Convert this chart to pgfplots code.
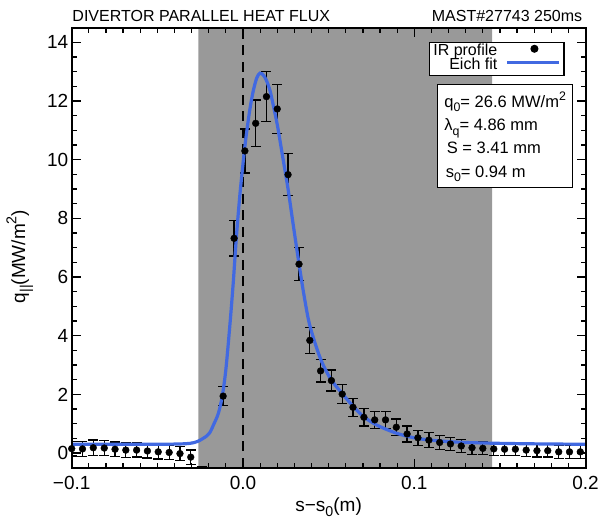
\documentclass[border=0pt]{standalone}
\usepackage{fontspec}
\setmainfont{Liberation Sans}
\usepackage{graphicx}
\usepackage{pgfplots}
\usepackage{pgfplotstable}
\pgfplotsset{compat=1.18}
\definecolor{shade}{RGB}{153,153,153}
\definecolor{fitblue}{RGB}{65,105,225}
\newcommand\lo[1]{\raisebox{-0.5ex}{\scalebox{0.75}{#1}}}
\newcommand\hi[1]{\raisebox{0.85ex}{\scalebox{0.75}{#1}}}
\pgfplotsset{fitlegend/.style={legend image code/.code={\draw[##1] (0pt,3pt) -- (52pt,3pt);}},
  marklegend/.style={legend image code/.code={\draw[mark repeat=2,mark phase=2,##1] plot coordinates {(0pt,3.5pt) (27pt,3.5pt) (52pt,3.5pt)};}}}

\pgfplotstableread{
x y e
-0.1000 0.15 0.25
-0.0937 0.14 0.25
-0.0874 0.18 0.26
-0.0810 0.17 0.26
-0.0747 0.13 0.25
-0.0684 0.10 0.25
-0.0621 0.10 0.24
-0.0558 0.07 0.24
-0.0495 0.04 0.24
-0.0431 0.02 0.24
-0.0368 -0.02 0.24
-0.0305 -0.14 0.24
-0.0242 -0.95 0.48
-0.0116 1.94 0.33
-0.0052 7.32 0.60
0.0011 10.30 0.75
0.0074 11.24 0.80
0.0137 12.15 0.85
0.0200 11.73 0.84
0.0263 9.49 0.72
0.0327 6.44 0.56
0.0390 3.84 0.44
0.0453 2.80 0.38
0.0516 2.47 0.36
0.0579 2.01 0.33
0.0642 1.56 0.31
0.0706 1.22 0.30
0.0769 1.13 0.29
0.0832 1.13 0.29
0.0895 0.88 0.28
0.0958 0.65 0.27
0.1021 0.52 0.26
0.1085 0.44 0.25
0.1148 0.36 0.24
0.1211 0.31 0.23
0.1274 0.24 0.22
0.1337 0.18 0.22
0.1400 0.16 0.22
0.1464 0.14 0.22
0.1527 0.13 0.22
0.1590 0.13 0.22
0.1653 0.10 0.22
0.1716 0.08 0.22
0.1779 0.08 0.22
0.1843 0.04 0.22
0.1906 0.04 0.22
0.1969 0.04 0.22
}\irdata

\pgfplotstableread{
x y
-0.1000 0.30
-0.0600 0.30
-0.0400 0.305
-0.0310 0.33
-0.0263 0.40
-0.0212 0.58
-0.0193 0.70
-0.0173 0.95
-0.0144 1.35
-0.0121 1.94
-0.0100 2.85
-0.0076 4.40
-0.0057 5.80
-0.0043 7.00
-0.0030 8.00
-0.0015 9.00
0.0008 10.30
0.0025 11.10
0.0041 11.75
0.0060 12.35
0.0080 12.78
0.0099 12.95
0.0119 12.88
0.0137 12.70
0.0158 12.35
0.0177 11.85
0.0200 11.20
0.0216 10.65
0.0236 9.95
0.0263 9.00
0.0294 7.75
0.0327 6.45
0.0357 5.35
0.0390 4.35
0.0450 3.25
0.0509 2.55
0.0577 2.04
0.0645 1.58
0.0704 1.24
0.0782 0.95
0.0899 0.67
0.1016 0.50
0.1152 0.41
0.1300 0.36
0.1500 0.33
0.1750 0.31
0.2000 0.30
}\fitdata

\begin{document}
\begin{tikzpicture}
\useasboundingbox (-71.7pt,-52.3pt) rectangle (528.3pt,467.7pt);
\begin{axis}[
  at={(0pt,0pt)}, anchor=south west,
  scale only axis, width=513.9pt, height=440pt,
  xmin=-0.1, xmax=0.2, ymin=-0.5, ymax=14.5,
  xtick={-0.1,0,0.1,0.2}, xticklabels={−0.1,0.0,0.1,0.2},
  ytick={0,2,...,14},
  minor x tick num=9, minor y tick num=3,
  tick align=inside,
  major tick length=9pt, minor tick length=5pt,
  every tick/.style={black, line width=1.2pt},
  axis line style={line width=1.8pt},
  tick label style={font=\fontsize{19}{22}\selectfont},
  /pgf/number format/assume math mode=true,
  xticklabel shift={5pt},
  xlabel={s−s\lo{0}(m)}, ylabel={q\lo{||}(MW/m\hi{2})},
  label style={font=\fontsize{19}{22}\selectfont},
  xlabel style={at={(axis description cs:0.5,-0.099)}, anchor=base},
  ylabel style={at={(axis description cs:-0.101,0.48)}, anchor=center},
  axis on top,
  legend plot pos=right,
  legend cell align=right,
  legend style={at={(0.6957,0.968)}, anchor=north west, draw=black, line width=1.2pt,
    fill=white, inner xsep=3pt, inner ysep=3pt, row sep=0pt, column sep=8pt,
    font=\fontsize{16}{16}\selectfont,
    nodes={inner sep=0.5pt, text height=9.5pt, text depth=3pt}},
]
\addplot[draw=none, fill=shade, forget plot] coordinates {(-0.026,-0.5) (0.1455,-0.5) (0.1455,14.5) (-0.026,14.5)} \closedcycle;
\addplot[black, line width=2.4pt, dash pattern=on 10pt off 6.5pt, forget plot] coordinates {(0,-0.5) (0,14.5)};
\addplot[only marks, mark=*, mark size=3.4pt, black, mark options={fill=black}, marklegend,
  error bars/.cd, y dir=both, y explicit,
  error bar style={line width=1.3pt, black},
  error mark options={rotate=90, black, line width=1.3pt, mark size=5pt},
  ] table[x=x, y=y, y error=e] {\irdata};
\addlegendentry{IR profile}
\addplot[fitblue, line width=3.2pt, smooth, fitlegend] table[x=x, y=y] {\fitdata};
\addlegendentry{Eich fit}

\draw[line width=1.2pt, fill=white] (rel axis cs:0.7121,0.8714) rectangle (rel axis cs:0.9739,0.6373);
\node[anchor=base west, inner sep=0pt, font=\fontsize{16.5}{18}\selectfont] at (rel axis cs:0.7249,0.8184) {q\lo{0}= 26.6 MW/m\hi{2}};
\node[anchor=base west, inner sep=0pt, font=\fontsize{16.5}{18}\selectfont] at (rel axis cs:0.7249,0.7655) {λ\lo{q}= 4.86 mm};
\node[anchor=base west, inner sep=0pt, font=\fontsize{16.5}{18}\selectfont] at (rel axis cs:0.7296,0.7148) {S = 3.41 mm};
\node[anchor=base west, inner sep=0pt, font=\fontsize{16.5}{18}\selectfont] at (rel axis cs:0.7276,0.6593) {s\lo{0}= 0.94 m};
\end{axis}
\node[anchor=base west, inner sep=0pt, font=\fontsize{16}{19}\selectfont] at (0.6pt,445.7pt) {DIVERTOR PARALLEL HEAT FLUX};
\node[anchor=base east, inner sep=0pt, font=\fontsize{16}{19}\selectfont] at (510.7pt,445.7pt) {MAST\#27743 250ms};
\end{tikzpicture}
\end{document}
